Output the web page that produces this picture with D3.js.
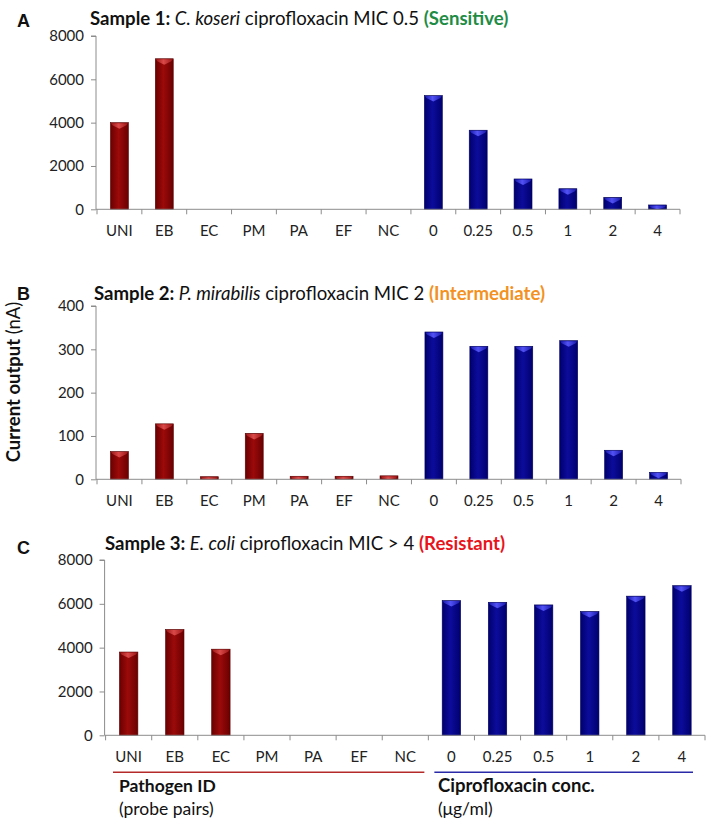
<!DOCTYPE html>
<html>
<head>
<meta charset="utf-8">
<script src="https://cdn.jsdelivr.net/npm/d3@7"></script>
<style>
  html, body { margin: 0; padding: 0; background: #fff; }
  svg { display: block; font-family: Lato, "Open Sans", sans-serif; }
</style>
</head>
<body>
<svg id="chart" width="714" height="829"></svg>
<script>
// ---- data ----
const pathogenLabels = ["UNI", "EB", "EC", "PM", "PA", "EF", "NC"];
const ciproLabels = ["0", "0.25", "0.5", "1", "2", "4"];

const sample1Pathogen = [4000, 6950, 0, 0, 0, 0, 0];
const sample1Cipro = [5250, 3650, 1400, 950, 550, 200];

const sample2Pathogen = [64, 128, 6, 106, 7, 7, 8];
const sample2Cipro = [340, 307, 307, 320, 67, 16];

const sample3Pathogen = [3800, 4830, 3930, 0, 0, 0, 0];
const sample3Cipro = [6150, 6070, 5950, 5650, 6350, 6830];

const yTicks8000 = [0, 2000, 4000, 6000, 8000];
const yTicks400 = [0, 100, 200, 300, 400];

const panels = [
  { letter: "A", sample: "Sample 1:", organism: "C. koseri", mid: " ciprofloxacin MIC 0.5 ", status: "(Sensitive)", statusColor: "#1e8c45",
    pathogen: sample1Pathogen, cipro: sample1Cipro, yMax: 8000, ticks: yTicks8000,
    x0: 97, x1: 680, yTop: 36, yBottom: 209.3, titleX: 90, titleY: 25, letterX: 17, letterY: 27 },
  { letter: "B", sample: "Sample 2:", organism: "P. mirabilis", mid: " ciprofloxacin MIC 2 ", status: "(Intermediate)", statusColor: "#f39222",
    pathogen: sample2Pathogen, cipro: sample2Cipro, yMax: 400, ticks: yTicks400,
    x0: 97, x1: 681, yTop: 306, yBottom: 479.3, titleX: 94, titleY: 300, letterX: 17, letterY: 300 },
  { letter: "C", sample: "Sample 3:", organism: "E. coli", mid: " ciprofloxacin MIC > 4 ", status: "(Resistant)", statusColor: "#e8141c",
    pathogen: sample3Pathogen, cipro: sample3Cipro, yMax: 8000, ticks: yTicks8000,
    x0: 105.6, x1: 705, yTop: 560, yBottom: 735.3, titleX: 105, titleY: 550, letterX: 17, letterY: 554 }
];

const svg = d3.select("#chart");
const defs = svg.append("defs");

function makeGrad(id, edge, mid) {
  const g = defs.append("linearGradient").attr("id", id).attr("x1", "0").attr("x2", "1").attr("y1", "0").attr("y2", "0");
  g.append("stop").attr("offset", "0%").attr("stop-color", edge);
  g.append("stop").attr("offset", "45%").attr("stop-color", mid);
  g.append("stop").attr("offset", "100%").attr("stop-color", edge);
}
makeGrad("redGrad", "#6a0000", "#9c0a0a");
makeGrad("blueGrad", "#00006e", "#0c0c9c");
makeGrad("redCap", "#a01818", "#e05050");
makeGrad("blueCap", "#1a1ab0", "#5a5aff");

const axisColor = "#8c8c8c";

panels.forEach((p, pi) => {
  const cats = pathogenLabels.concat(ciproLabels);
  const rows = pathogenLabels.map((c, i) => ({ c, v: p.pathogen[i], grp: "red" }))
    .concat(ciproLabels.map((c, i) => ({ c, v: p.cipro[i], grp: "blue" })));

  const x = d3.scaleBand().domain(cats).range([p.x0, p.x1]).paddingInner(0.6).paddingOuter(0.3);
  const xb = d3.scaleBand().domain(cats).range([p.x0, p.x1]).padding(0);
  const y = d3.scaleLinear().domain([0, p.yMax]).range([p.yBottom, p.yTop]);

  const g = svg.append("g");

  // bars
  const bars = g.selectAll("g.bar").data(rows.filter(d => d.v > 0)).join("g").attr("class", "bar");
  bars.append("rect")
    .attr("x", d => x(d.c))
    .attr("y", d => y(d.v))
    .attr("width", x.bandwidth())
    .attr("height", d => y(0) - y(d.v))
    .attr("fill", d => d.grp === "red" ? "url(#redGrad)" : "url(#blueGrad)")
    .attr("stroke", d => d.grp === "red" ? "#5a0000" : "#00005a")
    .attr("stroke-width", 0.6);
  bars.append("path")
    .attr("d", d => {
      const bx = x(d.c), bw = x.bandwidth(), by = y(d.v);
      const h = Math.min(6, y(0) - by);
      const h2 = Math.min(2.5, h);
      return `M${bx + 0.5},${by + 0.5} L${bx + bw - 0.5},${by + 0.5} L${bx + bw - 2},${by + h2} L${bx + bw / 2},${by + h} L${bx + 2},${by + h2} Z`;
    })
    .attr("fill", d => d.grp === "red" ? "url(#redCap)" : "url(#blueCap)")
    .attr("opacity", 0.9);

  // y axis
  const yAxis = d3.axisLeft(y).tickValues(p.ticks).tickSize(5).tickPadding(7).tickFormat(d3.format("d"));
  const ya = g.append("g").attr("transform", `translate(${p.x0 - 1},0)`).call(yAxis);
  ya.select(".domain").attr("stroke", axisColor).attr("d", `M-5,${p.yTop}H0V${p.yBottom}`);
  ya.selectAll(".tick line").attr("stroke", axisColor);
  ya.selectAll(".tick text").attr("fill", "#222").attr("font-size", 15).attr("font-family", "Lato");

  // x axis
  const xAxis = d3.axisBottom(xb).tickSize(0).tickPadding(16);
  const xa = g.append("g").attr("transform", `translate(0,${p.yBottom})`).call(xAxis);
  xa.select(".domain").attr("stroke", axisColor).attr("d", `M${p.x0 - 1},0H${p.x1}`);
  xa.selectAll(".tick text").attr("fill", "#222").attr("font-size", 15).attr("font-family", "Lato");
  // boundary tick marks
  xa.selectAll("line.bt").data(d3.range(cats.length + 1)).join("line").attr("class", "bt")
    .attr("x1", i => p.x0 + i * xb.step()).attr("x2", i => p.x0 + i * xb.step())
    .attr("y1", 0).attr("y2", 5).attr("stroke", axisColor);

  // title
  const t = svg.append("text").attr("x", p.titleX).attr("y", p.titleY).attr("font-size", 18.6).attr("fill", "#111");
  t.append("tspan").attr("font-weight", "bold").text(p.sample + " ");
  t.append("tspan").attr("font-style", "italic").text(p.organism);
  t.append("tspan").text(p.mid);
  t.append("tspan").attr("font-weight", "bold").attr("fill", p.statusColor).text(p.status);

  svg.append("text").attr("x", p.letterX).attr("y", p.letterY)
    .attr("font-family", "Liberation Sans, Arial, sans-serif").attr("font-weight", "bold").attr("font-size", 18)
    .attr("fill", "#111").text(p.letter);

  // bottom group legends for panel C
  if (pi === 2) {
    const ly = p.yBottom + 37;
    svg.append("line").attr("x1", 113).attr("x2", xb("NC") + xb.step() - 4).attr("y1", ly).attr("y2", ly)
      .attr("stroke", "#b42a2a").attr("stroke-width", 1.5);
    svg.append("line").attr("x1", xb("0") + 6).attr("x2", xb("4") + xb.step() - 12).attr("y1", ly).attr("y2", ly)
      .attr("stroke", "#2a2aa8").attr("stroke-width", 1.5);
    svg.append("text").attr("x", 119).attr("y", 792).attr("font-size", 17.5).attr("font-weight", "bold").attr("fill", "#111").text("Pathogen ID");
    svg.append("text").attr("x", 119).attr("y", 815).attr("font-size", 17.5).attr("fill", "#111").text("(probe pairs)");
    svg.append("text").attr("x", 438).attr("y", 792).attr("font-size", 18.5).attr("font-weight", "bold").attr("fill", "#111").text("Ciprofloxacin conc.");
    svg.append("text").attr("x", 438).attr("y", 815).attr("font-size", 17.5).attr("fill", "#111").text("(μg/ml)");
  }
});

// y-axis label
const yl = svg.append("text").attr("transform", "translate(20,382) rotate(-90)").attr("text-anchor", "middle")
  .attr("font-size", 18.5).attr("fill", "#111");
yl.append("tspan").attr("font-weight", "bold").text("Current output ");
yl.append("tspan").text("(nA)");
</script>
</body>
</html>
